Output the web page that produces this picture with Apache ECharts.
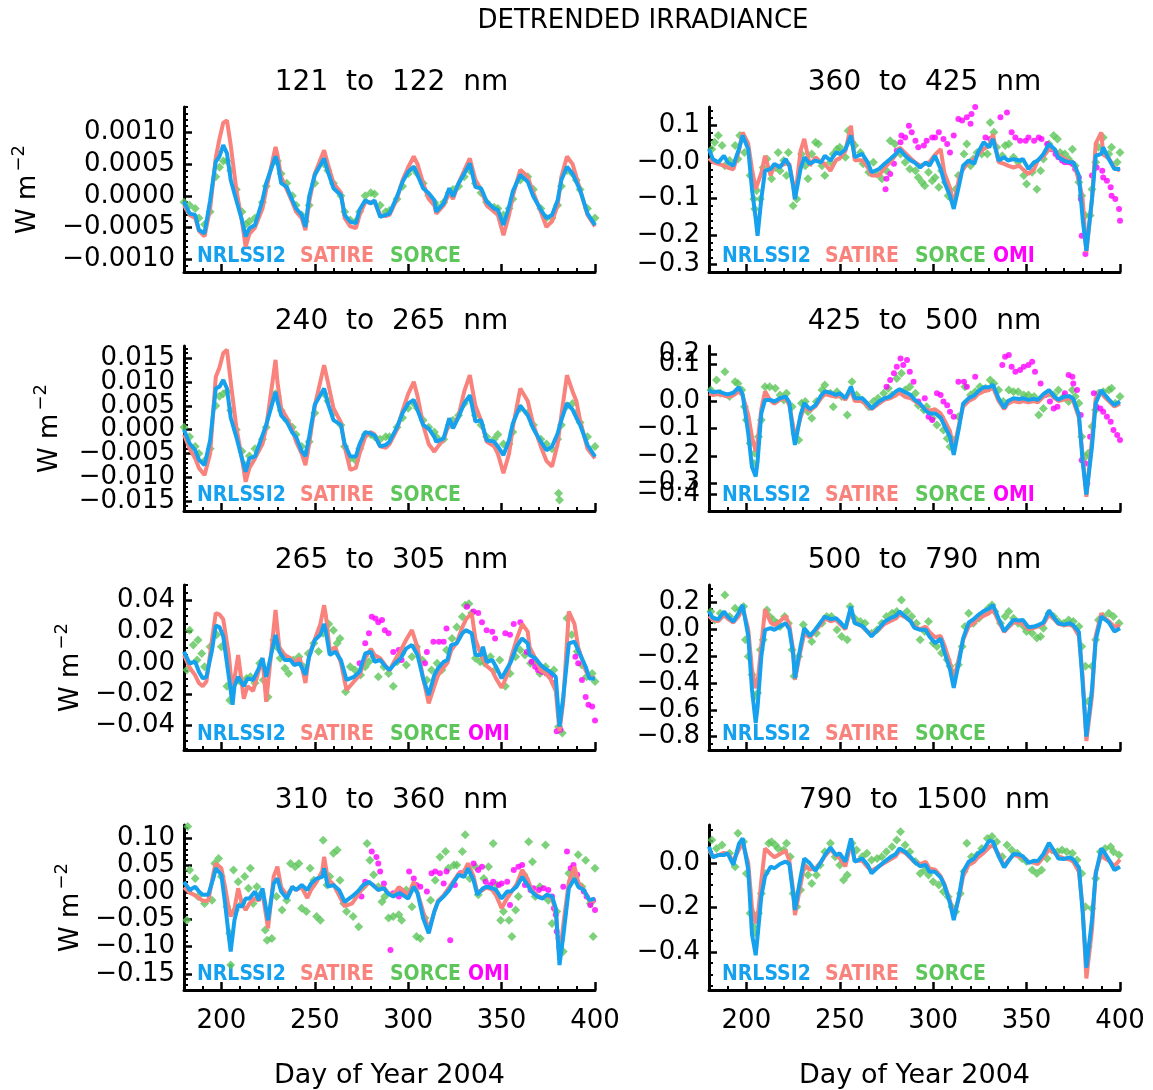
<!DOCTYPE html>
<html>
<head>
<meta charset="utf-8">
<title>Detrended irradiance</title>
<script src="https://cdn.jsdelivr.net/npm/echarts@6.0.0/dist/echarts.min.js"></script>
<style>
  html, body { margin: 0; padding: 0; background: #fff; }
  #chart { width: 1153px; height: 1090px; }
</style>
</head>
<body>
<div id="chart"></div>
<script>
// ---- day grids used by the model lines ----
const daysUV = [180,183,186,188,191,194,197,199,201,203,205,208,211,213,215,218,222,224,229,230,232,235,238,240,243,245,247,250,255,257,260,264,266,269,272,274,277,280,282,285,288,290,294,297,300,303,305,308,311,314,315,319,322,324,327,330,333,336,339,342,346,348,351,354,356,360,364,367,371,374,377,380,382,385,388,390,392,396,400];
const days265 = [180,183,186,188,190,192,195,197,199,201,204,206,207,209,212,214,217,220,222,224,229,231,234,237,239,242,245,247,250,253,255,256,258,261,264,267,271,274,277,280,282,285,288,290,293,296,299,302,305,308,311,314,316,319,321,323,326,329,331,334,336,339,340,342,345,347,350,353,355,358,361,364,365,368,371,373,376,379,381,383,386,389,391,395,397,400];
const days310 = [180,183,186,188,190,193,196,197,200,202,204,205,207,209,211,213,215,218,220,222,225,228,230,232,235,238,240,243,246,248,251,254,255,257,260,263,266,270,273,276,279,281,284,287,289,292,295,297,300,303,305,308,311,314,316,319,322,324,327,330,332,335,337,340,342,345,347,350,353,355,358,361,364,366,369,372,374,377,379,381,383,386,389,391,394,397,400];
const daysVis = [180,182,185,188,190,193,196,198,201,203,205,206,208,210,213,215,218,221,223,225,226,229,231,234,237,240,242,245,248,250,253,256,258,262,265,267,271,274,277,280,282,285,288,290,293,296,298,301,304,306,309,311,314,316,319,322,324,327,330,332,335,338,340,343,346,348,351,354,356,359,362,365,367,370,373,375,378,380,382,385,387,390,391,394,397,400];

// ---- 121-122 nm (units 1e-4 W m-2) ----
const nrl121 = [-0.9,-2.8,-3.0,-5.4,-5.9,-0.7,5.4,6.2,8.0,6.7,2.5,-0.7,-3.8,-6.4,-5.1,-4.6,-0.7,2.0,6.2,5.4,2.0,1.4,-0.7,-2.0,-3.0,-4.9,-0.1,3.3,5.9,3.8,1.2,0.1,-3.0,-4.1,-4.3,-2.2,-0.7,-1.2,-0.7,-3.3,-3.0,-2.8,-0.1,2.2,3.8,4.6,3.3,1.2,0.4,-0.7,-2.5,-1.2,1.2,-0.1,2.0,3.5,5.1,1.4,1.2,-0.9,-2.0,-2.2,-4.6,-1.7,0.7,3.3,2.2,-0.1,-2.2,-3.5,-3.0,-0.7,2.5,4.6,3.5,2.2,0.9,-2.8,-4.6];
const sat121 = [-1.5,-3.0,-3.5,-5.5,-6.4,-2.0,6.0,9.0,11.5,11.9,8.0,1.0,-4.0,-8.0,-6.0,-5.0,-2.0,1.0,7.7,6.5,3.0,1.0,-1.0,-2.5,-3.5,-5.4,-1.0,3.5,7.2,5.0,2.0,0.5,-3.5,-4.8,-5.1,-3.0,-1.0,-1.0,-1.0,-3.0,-3.2,-3.0,-0.5,2.5,4.5,6.2,5.0,2.0,-0.5,-1.5,-2.8,-1.5,0.5,-0.5,2.0,4.0,5.9,2.5,1.0,-1.5,-2.5,-3.0,-6.2,-3.0,0.0,4.1,3.0,0.5,-2.5,-4.9,-4.0,-1.5,3.0,6.2,5.0,3.0,1.0,-3.0,-4.8];
const sorce121 = [-1.0,-1.5,-2.0,-3.5,-4.5,-2.5,3.0,4.5,5.5,5.5,4.0,1.0,-2.5,-4.5,-4.0,-3.5,-1.0,1.5,5.5,5.5,3.5,2.0,0.0,-1.5,-3.0,-4.0,-1.5,2.0,5.0,4.0,2.0,0.0,-2.5,-3.8,-4.0,-2.5,0.0,0.5,0.3,-1.5,-2.5,-2.3,-0.5,1.5,3.5,4.2,3.5,2.0,0.0,-1.0,-1.5,-1.0,0.5,1.0,1.5,3.0,4.0,2.0,0.5,-1.0,-1.8,-2.0,-3.0,-2.0,-0.5,2.5,3.0,1.0,-2.0,-3.5,-3.5,-1.5,1.5,4.0,3.5,2.5,1.0,-2.0,-3.5];

// ---- 240-265 nm (units 1e-3) ----
const nrl240 = [0,-2.9,-4.3,-6.3,-7.4,-2.2,8.6,9.0,10.4,8.6,2.5,-1.5,-6.0,-8.8,-6.0,-5.6,-1.2,1.0,7.9,6.0,3.0,1.7,-0.6,-1.5,-4.5,-5.5,-1.5,5.2,8.6,5.5,2.0,1.0,-3.0,-5.6,-5.6,-3.0,-0.5,-0.8,-1.2,-3.5,-3.2,-2.5,0.5,3.5,5.5,6.2,4.1,1.0,0.2,-1.5,-2.5,-1.8,2.4,0.3,2.7,5.5,7.2,1.7,2.0,-2.2,-2.5,-3.5,-5.3,-2.2,1.3,5.0,3.0,0.2,-2.5,-4.3,-3.5,-0.8,2.0,5.5,4.2,2.5,1.0,-3.2,-5.6];
const sat240 = [-1.0,-4.0,-6.0,-8.0,-9.5,-5.0,11.0,13.0,16.0,16.7,10.0,0.5,-6.0,-10.9,-8.0,-6.0,-3.0,0.5,14.6,10.0,4.5,2.5,0.0,-2.5,-5.0,-7.4,-3.0,5.0,13.5,10.0,4.5,1.5,-3.5,-8.4,-8.0,-5.0,-1.5,-0.5,-1.0,-3.5,-3.8,-3.0,0.0,4.0,7.5,10.0,7.0,1.0,-3.0,-4.6,-4.0,-2.0,1.5,0.5,3.0,8.0,11.4,5.0,2.0,-2.5,-3.5,-5.0,-9.1,-5.0,0.5,8.6,6.0,1.0,-3.5,-6.5,-7.7,-3.0,3.0,11.4,8.0,6.0,2.0,-4.0,-6.0];
const sorce240 = [0.5,-1.5,-3.5,-5.0,-6.5,-4.0,5.0,7.0,7.5,8.0,4.0,0.0,-4.5,-7.5,-5.5,-4.0,-2.0,0.5,7.5,7.0,4.0,2.0,0.5,-1.0,-3.5,-5.0,-2.5,3.5,7.5,6.0,3.5,1.0,-3.5,-6.0,-6.5,-4.0,-1.0,-1.0,-1.5,-2.0,-1.5,-1.5,0.5,2.5,4.5,5.5,4.5,2.0,0.5,-0.5,-1.5,-2.0,1.0,2.0,3.0,5.5,6.5,3.0,1.0,-1.5,-2.0,-1.0,-3.0,-3.0,-0.5,4.5,3.5,1.0,-2.0,-3.0,-4.0,-2.0,1.0,5.0,5.5,3.5,1.5,-1.5,-3.5];
const sorce240Out = [[380.5,-13.3],[381,-14.7]];

// ---- 265-305 nm (units 1e-2) ----
const nrl265 = [0.72,-0.03,0.07,-0.57,-1.0,-0.9,0.82,2.4,2.3,1.7,-0.9,-2.7,-1.5,-0.9,-1.5,-1.0,-1.1,-0.35,0.3,-0.9,1.8,0.72,0.18,0.18,-0.14,-0.03,-0.78,0.39,1.46,1.8,2.5,2.0,0.5,0.72,0.18,-1.1,-0.9,-0.57,0.6,0.72,0.07,0.18,-0.25,-0.46,-0.03,0.3,0.93,1.14,0.5,-1.0,-2.07,-0.78,-0.35,0.07,0.18,1.14,1.25,1.9,2.1,1.9,0.5,0.5,1.04,0.07,0.18,-0.25,-1.0,-0.35,0.07,1.04,1.57,1.25,0.5,0.3,-0.14,-0.35,-0.57,-0.9,-4.1,-2.2,1.25,1.36,0.82,-0.25,-1.0,-1.0];
const sat265 = [0.5,-0.3,-0.8,-1.3,-1.5,-1.2,1.5,3.2,3.1,2.8,0.5,-2.0,-1.0,0.5,-2.3,-1.5,-1.8,-0.5,0.3,-2.5,3.4,1.0,0.5,0.3,0.0,0.3,-1.3,0.5,1.5,2.5,3.7,3.0,0.8,1.0,0.0,-1.75,-1.2,-0.8,0.3,0.9,0.5,0.3,-0.2,-0.5,0.2,0.8,1.5,2.1,1.0,-1.0,-2.6,-1.5,-0.8,-0.3,0.0,0.8,1.3,2.3,2.8,3.2,1.5,0.5,0.5,-0.2,-0.5,-1.0,-1.6,-0.8,0.3,1.5,2.5,2.0,1.0,0.3,-0.5,-0.6,-1.0,-1.8,-4.4,-2.5,3.3,2.5,1.0,-0.5,-0.9,-1.0];
const sorce265 = [[181.5,-0.46],[183,2.1],[185,1.14],[187,0.18],[187.5,1.46],[189.5,0.6],[191,-0.25],[194,1.04],[197.5,1.8],[200,1.04],[203,-1.5],[204.5,-2.4],[206.5,-1.1],[209,-1.1],[211,-1.3],[213.5,-1.0],[215.5,-0.9],[218,-1.3],[220.5,-0.03],[222.5,-1.1],[225,-2.2],[228,1.46],[229.5,1.04],[231.5,0.3],[234,-0.35],[236,-0.68],[238.5,0.18],[241.5,0.39],[244,-0.25],[246.5,0.6],[249.5,1.25],[252,0.72],[254.5,1.9],[257.5,2.5],[260,2.1],[262,1.25],[263.5,1.57],[266.5,-1.85],[269,-0.25],[271.5,-0.46],[274.5,-0.78],[277,-0.25],[279,0.07],[281.5,0.39],[284,-0.9],[287,-0.25],[289.5,-0.68],[292,-1.5],[294,0.07],[296.5,0.6],[299,-0.14],[302,0.39],[304.5,1.04],[307.5,0.18],[310,-1.1],[312.5,-0.46],[315.5,-0.03],[318,-0.46],[320.5,0.82],[323.5,1.57],[326,2.3],[329,2.96],[330.5,3.7],[332.5,3.8],[334,3.2],[336,0.3],[338.5,0.07],[341,-0.03],[344,0.39],[346.5,-0.46],[349,0.18],[352,-1.5],[354.5,-0.68],[357.5,0.39],[360,0.82],[362.5,0.5],[365.5,-0.03],[368,0.18],[370.5,-0.68],[373.5,-0.25],[375,-0.68],[378,-0.46],[380.5,-4.1],[382.5,-4.5],[385,2.86],[387.5,1.8],[390.5,0.72],[393,-0.14],[395.5,-0.9],[398.5,-0.68],[400,-1.2]];
const omi265 = [[274,-0.03],[277,1.25],[279,1.9],[280.5,2.96],[282.5,2.85],[284,2.6],[286,2.75],[287.5,2.1],[289.5,1.9],[292,0.7],[295,0.82],[296.5,0.18],[309,-0.03],[310,0.7],[313.5,1.36],[316.5,1.36],[319,1.36],[320.5,2.2],[331.5,3.6],[335,3.3],[337.5,3.2],[339.5,2.6],[342,2.1],[345,2.0],[346.5,1.57],[352,1.9],[354.5,1.8],[356.5,2.5],[360,2.6],[363.5,0.7],[366,0.07],[368,-0.25],[369.5,-0.46],[371.5,-0.57],[374,-0.68],[376,-0.9],[378,-1.3],[379.5,-4.4],[381.5,-4.3],[389.5,0.39],[391,-0.03],[393,-1.1],[395,-2.2],[396.5,-2.7],[398.5,-2.8],[400,-3.7]];

// ---- 310-360 nm (units 1e-2) ----
const nrl310 = [2.0,0.5,1.1,0.2,-0.4,-0.4,3.0,4.5,3.3,-2.0,-8.1,-10.9,-5.1,-2.3,-2.6,-1.1,-1.1,0.2,-1.4,0.8,-5.1,1.7,2.6,0.2,-1.1,1.1,0.5,1.4,0.5,1.7,2.6,2.9,4.5,1.1,1.4,0.5,-1.7,-0.7,0.2,1.4,2.0,1.4,0.5,0.8,-0.1,-0.7,-0.1,-0.4,-1.1,1.1,-0.1,-4.7,-7.5,-3.5,-1.7,-0.7,0.5,1.7,3.3,2.9,4.5,2.3,-0.4,0.8,1.1,0.8,0.5,-1.1,0.2,0.2,1.1,2.9,1.4,0.2,-0.7,-1.1,-0.4,-0.7,-2.9,-13.4,-8.1,0.8,2.6,1.1,0.5,-1.4,-1.1];
const sat310 = [1.0,0.0,-0.5,-1.0,-1.5,-1.5,4.0,5.4,4.5,1.0,-3.0,-4.4,-3.0,0.8,-2.0,-3.2,-2.0,-1.0,-1.5,0.0,-6.6,3.0,4.8,1.0,-0.5,1.0,0.5,1.0,-1.0,0.5,2.0,4.0,6.6,2.5,1.5,-0.5,-2.5,-2.0,-0.5,1.0,1.8,1.5,0.5,1.0,0.0,-0.5,1.0,0.5,-0.5,2.0,0.0,-3.5,-6.9,-3.5,-1.5,-0.5,1.0,2.0,3.5,4.0,5.4,3.0,0.0,0.5,1.0,0.5,-0.5,-2.9,-1.0,0.0,1.5,4.2,2.5,0.5,-0.5,-1.0,-0.5,-1.0,-3.5,-12.4,-6.0,2.0,4.8,2.0,0.5,-1.5,-1.5];
const sorce310 = [[182,12.2],[183,4.2],[181.5,-5.1],[186,2.6],[187.5,-0.7],[191,-2.0],[195,-1.4],[196.5,5.4],[198.5,6.3],[200,3.0],[203,-2.6],[204.5,-7.5],[205,-13.4],[206.5,4.2],[207.5,-3.2],[209,2.0],[211,-2.0],[212.5,3.0],[214.5,0.8],[215.5,4.5],[217,-2.0],[219,1.1],[221.5,-0.1],[223.5,-6.9],[224.5,-8.8],[227,-8.5],[229.5,-0.7],[232.5,-3.2],[235,-1.4],[237,5.4],[239.5,4.8],[241.5,5.4],[243,-2.9],[245.5,-3.5],[247.5,4.5],[249.5,2.3],[251,-4.4],[253,-5.1],[254.5,9.7],[256.5,1.4],[258,3.0],[260,7.3],[262,7.9],[263.5,2.3],[265.5,-2.0],[267,-3.5],[270.5,-4.4],[273.5,-6.3],[276,1.1],[278,9.1],[279.5,6.0],[281.5,3.3],[284,1.1],[286,-1.7],[287.5,-0.7],[289.5,-4.7],[292,-4.4],[295,-4.1],[296.5,-5.1],[299,0.5],[302,-2.6],[304.5,-8.1],[306.5,-8.5],[309,-4.7],[312,-1.4],[314.5,2.3],[317,6.6],[320,7.6],[321.5,4.5],[324.5,5.1],[326,5.1],[329,7.6],[330.5,10.7],[333,2.6],[336,4.8],[337.5,-0.4],[340.5,2.6],[343,4.8],[345.5,9.1],[347.5,1.4],[349.5,-5.1],[351,-3.5],[354,-5.1],[355.5,-8.1],[357.5,-3.2],[359,-0.7],[362,3.3],[364.5,9.4],[366.5,5.7],[368,-0.7],[370.5,1.1],[373.5,8.8],[375,-1.4],[377,-5.7],[379.5,-3.5],[381.5,-8.8],[383,-10.9],[386,3.6],[388.5,3.0],[391,7.0],[393,1.1],[395,6.0],[397.5,-2.0],[399,-8.1],[400,4.5]];
const omi310 = [[275,-0.7],[277,2.0],[280.5,7.6],[283,6.6],[284,5.4],[285,3.9],[287,1.7],[290.5,-10.6],[292,-0.1],[295,-0.7],[296.5,0.2],[300.5,3.9],[303,2.6],[304.5,1.4],[306.5,1.1],[310,0.2],[312.5,3.6],[314.5,3.9],[317,3.6],[319,1.7],[320.5,3.9],[322.5,-8.8],[325,1.4],[328,3.6],[331.5,4.2],[335,5.4],[337.5,4.2],[339.5,4.8],[341.5,2.0],[344,1.4],[345.5,2.0],[348.5,1.4],[350,1.7],[353,2.0],[354.5,-2.3],[356.5,4.2],[359,4.8],[361,5.1],[362.5,1.4],[365.5,0.5],[367,0.8],[370,0.5],[372.5,0.8],[375,0.5],[377,-0.7],[378,-2.9],[379,-4.1],[379.5,-7.2],[380.5,-8.5],[380.8,-10.0],[383,1.1],[385,7.6],[387,4.5],[388.5,5.1],[390.5,3.3],[392,1.1],[394,0.2],[395.5,-0.7],[397.5,-2.3],[399,-1.4],[400,-3.2]];

// ---- 360-425 nm (units 1e-2) ----
const nrl360 = [3.5,0.8,-0.1,1.7,-0.1,-1.0,3.5,7.2,3.5,-7.4,-15.5,-20.1,-10.1,-2.4,-1.9,-0.5,-1.5,0.8,-1.0,-6.5,-10.1,-1.9,1.3,-0.5,0.4,-0.1,1.7,0.4,2.6,2.2,3.5,7.2,1.3,2.2,-0.1,-2.8,-1.9,-0.5,0.8,2.2,3.5,1.7,0.4,-0.1,-1.5,-0.1,-1.0,1.7,-1.9,-5.5,-9.2,-12.8,-6.0,-1.0,0.4,-0.5,2.6,5.4,4.0,6.3,0.4,1.3,0.4,0.8,0.4,0.8,-1.9,-0.1,0.4,2.2,4.9,3.5,1.3,0.4,-0.1,-0.1,-3.7,-15.5,-24.2,-10.1,1.7,2.2,4.0,0.8,-1.9,-1.9];
const sat360 = [1.0,0.0,-0.5,-1.0,-1.5,-2.0,3.0,8.1,5.0,-2.0,-7.4,-7.5,-3.0,1.7,-3.7,-1.0,-1.0,-0.5,-0.5,-6.0,-10.1,3.0,6.3,-1.0,1.3,0.0,-0.5,-2.4,0.5,1.0,3.0,9.9,0.5,0.5,-1.5,-3.7,-3.7,-1.5,0.0,2.0,4.0,2.5,1.0,0.0,-1.0,-0.5,0.0,2.0,3.5,-3.0,-7.0,-11.9,-4.0,-2.0,0.0,0.8,2.0,3.5,4.5,7.6,0.0,-0.5,-1.0,-1.5,-1.0,-2.0,-3.3,-2.0,0.5,1.5,3.5,3.5,2.0,1.0,0.0,0.0,-5.0,-10.1,-24.6,-10.1,5.0,8.1,2.0,1.0,-1.5,-2.4];
const sorce360 = [[181.5,3.5],[183,5.4],[185,7.2],[187,4.5],[188.5,-1.0],[191,0.4],[194,4.5],[195.5,0.8],[196.5,7.2],[199,2.6],[202,-3.7],[204,-10.1],[204.5,-12.8],[205.5,-7.8],[207.5,-10.1],[209,-1.5],[211,0.8],[213.5,-4.6],[215.5,-1.5],[217,2.6],[218,-2.4],[220,0.4],[221.5,-3.7],[222.5,2.6],[225,-11.9],[227,-10.1],[229.5,2.2],[231.5,-1.0],[233,-4.6],[235,2.2],[237,5.4],[238.5,4.9],[240.5,-1.0],[242,-3.7],[245,-0.1],[246.5,2.2],[248.5,3.5],[250,4.0],[253,1.3],[254.5,8.5],[256.5,5.4],[258,4.5],[261,2.6],[262.5,-0.5],[265.5,-2.8],[268,-0.1],[270,-3.3],[272.5,-4.6],[275,-2.4],[277,5.8],[279.5,4.9],[282.5,2.2],[285,-0.1],[287.5,-1.9],[290.5,-2.4],[292,-4.2],[294,-5.5],[295.5,-6.5],[297.5,-2.8],[299.5,-5.1],[301,-4.2],[303,-6.9],[304.5,-2.4],[306.5,-5.5],[308,-9.2],[310,-10.1],[312,-7.4],[313.5,-3.7],[316.5,2.2],[318,4.9],[320,-1.0],[321.5,0.8],[323.5,2.6],[326,2.2],[329,2.2],[330.5,10.8],[332.5,8.1],[334,4.0],[337,1.7],[338.5,4.5],[340.5,4.9],[343,1.3],[345.5,-0.1],[348.5,-3.7],[350,-6.0],[353,-2.8],[355.5,-7.4],[357.5,-2.4],[359,0.8],[362,4.9],[364.5,7.2],[366.5,6.3],[368,2.6],[370.5,2.2],[372.5,0.8],[374.5,3.5],[376,-1.0],[378,-5.5],[379.5,-9.2],[381.5,-14.6],[384,-14.6],[385,-7.4],[387,-0.1],[388.5,4.0],[391,6.7],[394,2.2],[395.5,4.0],[398.5,-0.1],[400,2.6]];
const omi360 = [[274.5,-7.4],[275,-4.6],[277,-3.3],[279,-0.5],[280.5,3.1],[282.5,5.4],[283,7.2],[285,6.7],[287,9.9],[288.5,8.1],[290.5,5.8],[292,4.0],[295,4.5],[296.5,5.8],[299.5,6.7],[301,6.7],[303,8.1],[305.5,6.3],[307.5,4.9],[309,2.6],[311,7.2],[313.5,11.7],[315.5,11.3],[318,12.2],[320,10.4],[320.5,13.1],[322.5,15.0],[328,6.7],[330.5,6.3],[336,12.2],[339.5,13.5],[342,8.1],[344,6.7],[346.5,5.8],[349.5,5.8],[351,6.7],[354,5.8],[356.5,6.7],[358,6.3],[361,4.9],[363.5,3.5],[365.5,2.2],[367,1.3],[369,0.4],[370.5,-0.1],[372.5,-0.1],[374.5,-0.5],[376,-1.9],[378,-4.2],[379,-10.1],[379.5,-20.1],[381.5,-25.1],[385,-3.7],[387.5,-1.5],[390.5,-2.4],[391,-4.2],[393,-5.1],[395,-6.9],[395.5,-9.2],[397.5,-10.1],[399.5,-12.8],[400,-16.0]];

// ---- 425-500 nm (units 1e-2) ----
const nrl425 = [4.0,3.2,3.5,2.8,2.4,3.0,5.0,2.5,-11.8,-24.0,-27.5,-22.0,-4.5,0.4,0.4,-0.2,1.0,1.6,-0.5,-11.8,-16.0,-5.0,-0.8,-3.0,-1.5,2.0,3.5,3.0,2.2,2.8,1.0,5.2,1.0,1.0,-1.0,-2.7,-0.2,1.0,1.6,3.5,4.3,3.2,2.2,0.5,-1.0,-3.5,-4.5,-4.5,-6.0,-9.0,-13.0,-19.6,-9.0,-1.0,1.0,2.0,3.5,5.0,5.0,6.0,1.0,-2.5,0.0,1.0,0.7,1.0,0.4,0.8,0.4,2.5,4.0,1.5,0.5,1.5,1.8,0.8,-5.0,-22.0,-34.0,-16.6,-0.8,4.0,3.0,0.6,-1.5,-0.2];
const sat425 = [2.8,2.2,2.5,2.0,1.6,2.0,3.5,2.0,-5.0,-13.0,-18.4,-15.0,-3.0,3.5,0.0,-1.0,0.5,1.0,-1.5,-9.0,-14.2,-6.0,-2.0,-3.5,-2.0,1.0,2.5,2.0,1.5,2.0,0.5,4.0,0.0,0.0,-2.0,-3.0,-1.0,0.5,1.0,2.0,3.0,1.5,1.0,0.0,-1.5,-3.0,-3.5,-3.0,-4.5,-7.0,-11.0,-17.8,-8.0,-2.0,0.0,1.0,2.5,3.5,4.0,5.0,0.0,-3.0,-1.0,0.0,-0.5,0.0,-0.5,0.0,-0.5,1.5,3.0,1.0,0.0,0.5,1.0,0.0,-6.0,-20.0,-34.8,-14.0,1.0,3.0,2.0,0.0,-2.0,-1.0];
const sorce425 = [[181,4.0],[184,7.6],[188.5,10.6],[186,2.8],[191,1.6],[194,7.0],[195.5,6.4],[197.5,4.0],[199,-2.1],[200,-6.9],[202,-15.4],[204,-22.7],[204.5,-19.0],[206.5,-13.0],[208,-6.9],[210,5.2],[212.5,5.2],[215.5,4.6],[218,2.2],[220,0.4],[221.5,2.8],[224.5,-2.1],[226,-11.8],[228,-14.2],[229.5,-0.8],[231.5,-0.2],[233,-3.9],[235,-6.3],[237.5,-0.2],[240.5,4.0],[242,5.8],[245,2.8],[246.5,-2.1],[248.5,3.4],[251,1.6],[254,-5.1],[256.5,7.0],[259,2.2],[262,0.4],[265.5,-2.1],[268,-0.2],[270.5,1.0],[273.5,2.8],[276,4.6],[278,2.2],[280.5,8.2],[283,10.1],[285,4.0],[287.5,5.2],[290.5,2.8],[292,-1.5],[295,-3.3],[296.5,-2.1],[299.5,-6.3],[302,-8.7],[304,-5.7],[305.5,-10.5],[307.5,-13.6],[309,-16.6],[311,-14.2],[313.5,-5.7],[317,5.2],[320,2.2],[322.5,3.4],[325,5.2],[328,4.6],[330.5,7.6],[332.5,6.4],[335,4.0],[337.5,-0.2],[340.5,4.0],[343,3.4],[345.5,3.4],[348.5,2.2],[351,2.2],[354,1.6],[356.5,-5.1],[359,-2.7],[362,2.8],[364.5,2.2],[367,4.0],[370,1.6],[372.5,-0.2],[374.5,4.0],[376,1.6],[378,-0.8],[379.5,-13.0],[381.5,-20.3],[383,-19.0],[385,-9.3],[387,-3.3],[388.5,2.8],[391,3.4],[394,4.0],[395.5,4.6],[397.5,-0.8],[400,1.6]];
const omi425 = [[275,5.2],[277,7.6],[279,10.1],[280.5,12.5],[282.5,15.5],[284,13.1],[286,14.9],[287.5,10.6],[289.5,7.0],[292,-0.2],[295.5,1.0],[297.5,-5.7],[299.5,-6.9],[302,2.8],[304,2.2],[305.5,-0.2],[307.5,-1.5],[309,-3.9],[311,-5.7],[313.5,7.0],[316.5,7.0],[318,5.2],[320,1.0],[322.5,8.8],[337,13.1],[338.5,16.1],[340.5,16.7],[342,12.5],[344,10.6],[346.5,11.3],[348.5,12.5],[351,13.1],[353,14.3],[354.5,10.6],[357.5,6.4],[360,2.2],[362.5,-0.2],[364.5,-2.7],[366.5,-2.1],[370.5,2.8],[372.5,9.5],[374.5,8.8],[375,6.4],[377,4.0],[379,-5.1],[379.5,-21.5],[381.5,-22.7],[382.5,-29.9],[384,-13.0],[386,2.8],[387.5,-2.1],[389.5,-2.7],[391,-3.9],[393,-5.7],[395,-7.5],[396.5,-10.5],[398.5,-12.4],[400,-14.2]];

// ---- 500-790 nm (units 1e-2) ----
const nrl500 = [13.2,8.5,7.5,13.2,9.5,5.7,12.5,18.1,-5.0,-45.0,-69.8,-58.0,-20.3,-0.4,0.8,-0.4,2.0,4.5,0.0,-18.0,-36.4,-12.8,0.8,-5.0,0.0,5.7,9.5,7.5,8.2,5.7,0.8,16.9,4.5,2.5,-2.0,-5.4,0.8,5.7,8.2,10.0,13.2,9.5,5.7,1.0,-0.4,-0.4,-5.4,-10.3,-7.0,-17.0,-30.0,-43.7,-23.0,-7.0,5.0,8.0,10.5,13.5,15.5,18.1,8.0,-1.5,2.0,7.0,6.5,7.0,1.5,2.0,3.0,5.0,14.0,8.0,4.5,3.5,4.5,3.0,-2.0,-40.0,-80.0,-45.0,-8.0,9.5,10.7,5.0,-1.7,0.8];
const sat500 = [10.0,7.0,6.0,10.5,8.0,5.0,10.0,16.0,0.0,-30.0,-43.8,-40.0,-12.0,15.0,5.0,3.0,6.0,10.0,3.0,-15.0,-37.6,-16.0,-3.0,-6.0,-1.0,4.0,8.0,6.0,7.0,4.0,0.0,15.0,5.0,2.0,-2.0,-4.0,0.0,4.0,6.0,8.0,11.0,9.0,6.0,2.0,0.0,2.0,-2.0,-6.0,-5.0,-12.0,-25.0,-38.9,-20.0,-8.0,2.0,5.0,8.0,10.0,12.0,15.0,6.0,-2.0,1.0,5.0,5.0,4.0,0.0,1.0,2.0,4.0,11.0,7.0,4.0,3.0,3.5,2.0,-5.0,-35.0,-83.3,-50.0,-5.0,12.0,9.0,6.0,2.0,3.0];
const sorce500 = [[181,13.2],[183,7.0],[186,11.9],[188.5,25.5],[191,9.5],[194,15.6],[196.5,14.4],[198.5,16.9],[199.5,-7.9],[201,-20.3],[203,-33.9],[204.5,-50.0],[206,-47.6],[207.5,-15.3],[209,-7.9],[211,14.4],[212.5,9.5],[214.5,7.0],[216.5,4.5],[218,2.0],[220.5,9.5],[222.5,4.5],[224.5,-15.3],[225.5,-35.0],[228,-20.3],[230.5,3.3],[232.5,-2.9],[235,-9.1],[237.5,-2.9],[240.5,4.5],[243,9.5],[245.5,9.5],[248.5,-0.4],[251,-5.4],[254,-7.9],[255.5,16.9],[258,8.2],[261,5.7],[263.5,4.5],[267,-2.9],[270,-0.4],[272.5,4.5],[275,9.5],[278,11.9],[280.5,13.2],[283,21.8],[286,13.2],[288.5,9.5],[291,4.5],[293,-7.9],[295.5,-1.7],[297.5,5.7],[300,-10.3],[302,-12.8],[304.5,-17.7],[307.5,-22.7],[309,-27.6],[311,-32.6],[313.5,-26.4],[315.5,-12.8],[317,2.0],[319,11.9],[321.5,4.5],[324.5,8.2],[327,11.9],[329.5,15.6],[331.5,18.1],[333,13.2],[336,4.5],[338.5,9.5],[340.5,13.2],[343,8.2],[345.5,4.5],[348.5,2.0],[350,-1.7],[353,-2.9],[355.5,-6.6],[357.5,-5.4],[359,0.8],[362,11.9],[364.5,9.5],[367,5.7],[370,4.5],[372.5,7.0],[375,5.7],[378,2.0],[379.5,-12.8],[381.5,-27.6],[383,-53.6],[385,-27.6],[387,-7.9],[388.5,7.0],[391,9.5],[394,11.9],[396.5,9.5],[399.5,4.5]];

// ---- 790-1500 nm (units 1e-2) ----
const nrl790 = [7.3,2.5,3.5,3.5,4.3,-0.9,8.5,11.0,-3.0,-32.0,-41.4,-33.0,-15.0,-6.0,-1.7,-2.4,-0.5,0.6,-0.5,-13.7,-21.1,-6.5,2.0,-0.2,-3.5,0.5,3.5,7.0,3.5,4.3,0.6,11.0,0.6,2.0,-1.0,-4.7,-1.5,0.6,2.5,4.0,6.5,5.0,2.5,0.5,-1.5,-0.9,-4.0,-4.0,-6.5,-10.0,-18.0,-25.6,-14.0,-4.0,0.5,2.0,4.3,6.0,10.0,9.5,3.0,-2.0,0.5,4.0,3.8,3.0,0.0,1.0,0.8,4.0,9.0,5.0,2.0,1.8,2.5,1.5,-2.0,-22.0,-47.0,-25.6,-5.0,6.5,5.5,1.5,-3.2,-1.7];
const sat790 = [5.5,3.0,3.5,4.5,4.0,1.0,6.0,9.0,0.0,-20.0,-27.1,-25.0,-8.0,6.5,4.0,2.5,4.0,5.5,1.0,-12.0,-23.4,-10.0,-1.0,-3.0,-2.5,0.5,3.0,6.0,3.5,2.0,-1.5,9.0,1.0,1.0,-2.0,-3.5,-1.5,0.0,1.5,3.0,5.5,4.5,2.0,0.5,-0.5,0.5,-2.5,-3.0,-6.0,-9.5,-17.0,-24.1,-15.0,-6.0,-1.0,0.5,2.5,4.5,7.0,8.0,4.0,-1.5,1.0,3.5,3.0,2.5,0.5,0.0,-0.5,2.5,6.0,4.5,3.0,2.0,1.5,0.5,-4.0,-20.0,-51.8,-30.0,-4.0,4.0,2.5,1.0,-1.5,1.5];
const sorce790 = [[181.5,10.3],[184,6.5],[187,8.0],[191,4.3],[194,-1.7],[195.5,13.3],[198.5,9.5],[200,-4.7],[202,-22.6],[204,-28.6],[205,-31.6],[206.5,-22.6],[208,-13.7],[210,-4.7],[212,8.8],[213.5,9.5],[215.5,8.0],[217,6.5],[220,5.8],[221.5,8.8],[223.5,2.8],[225,-13.7],[227,-19.7],[229,-12.2],[231.5,-1.7],[233,-5.4],[235,-9.2],[237.5,-5.4],[239.5,-0.9],[242,5.0],[245,8.8],[247.5,2.8],[250,-0.9],[252,-7.7],[254,-5.4],[256.5,8.8],[259,5.8],[262,2.8],[264.5,4.3],[267,1.3],[270,2.0],[272.5,2.8],[275,5.0],[278,7.3],[280.5,10.3],[282.5,14.0],[285,8.0],[287.5,5.0],[290.5,0.6],[293,-4.7],[295.5,-3.2],[297.5,-5.4],[300,-8.4],[303,-9.9],[305.5,-12.9],[308,-15.2],[310,-19.7],[312,-21.9],[314.5,-13.7],[316.5,-3.9],[318,8.8],[320.5,2.8],[323.5,3.5],[326,6.5],[329,11.0],[331.5,11.8],[334,9.5],[337,2.8],[339.5,8.0],[342,5.8],[345,4.3],[347.5,2.0],[350,0.6],[353,-3.2],[355.5,-4.7],[358,-3.2],[361,2.0],[363.5,5.8],[366.5,5.0],[369,5.8],[371.5,5.0],[374.5,4.3],[377,1.3],[379.5,-4.7],[381.5,-19.7],[383,-37.6],[385,-20.4],[387,-7.0],[389.5,5.0],[392,6.5],[395,7.3],[396.5,5.0],[399.5,3.5]];

// ---- tick labels ----
const xTicks = [200, 250, 300, 350, 400];
const xMinorTicks = [190, 210, 220, 230, 240, 260, 270, 280, 290, 310, 320, 330, 340, 360, 370, 380, 390];
const legendNames = ['NRLSSI2', 'SATIRE', 'SORCE', 'OMI'];

const FONT = '"DejaVu Sans", Verdana, sans-serif';
const LEGEND_FONT = '"Liberation Sans Narrow", "DejaVu Sans Condensed", "Liberation Sans", sans-serif';
const COLORS = { nrl: '#16a1ee', sat: '#f9827c', sorce: '#5cc65a', omi: '#ff00ff' };
const GRID_LEFT = [184, 709];
const GRID_TOP = [107, 346, 585, 825];
const GRID_W = 411, GRID_H = 165;

const panels = [
  { title: '121  to  122  nm', col: 0, row: 0, unit: 1e-4, min: -0.0012, max: 0.0014, minor: 0.0001,
    ticks: [-0.001, -0.0005, 0, 0.0005, 0.001], labels: ['−0.0010', '−0.0005', '0.0000', '0.0005', '0.0010'],
    days: daysUV, nrl: nrl121, sat: sat121, sorce: daysUV.map((d, i) => [d, sorce121[i]]), omi: null, nameX: 28 },
  { title: '240  to  265  nm', col: 0, row: 1, unit: 1e-3, min: -0.017, max: 0.0175, minor: 0.001,
    ticks: [-0.015, -0.01, -0.005, 0, 0.005, 0.01, 0.015], labels: ['−0.015', '−0.010', '−0.005', '0.000', '0.005', '0.010', '0.015'],
    days: daysUV, nrl: nrl240, sat: sat240, sorce: daysUV.map((d, i) => [d, sorce240[i]]).concat(sorce240Out), omi: null, nameX: 50 },
  { title: '265  to  305  nm', col: 0, row: 2, unit: 1e-2, min: -0.056, max: 0.05, minor: 0.005,
    ticks: [-0.04, -0.02, 0, 0.02, 0.04], labels: ['−0.04', '−0.02', '0.00', '0.02', '0.04'],
    days: days265, nrl: nrl265, sat: sat265, sorce: sorce265, omi: omi265, nameX: 71 },
  { title: '310  to  360  nm', col: 0, row: 3, unit: 1e-2, min: -0.18, max: 0.125, minor: 0.01,
    ticks: [-0.15, -0.1, -0.05, 0, 0.05, 0.1], labels: ['−0.15', '−0.10', '−0.05', '0.00', '0.05', '0.10'],
    days: days310, nrl: nrl310, sat: sat310, sorce: sorce310, omi: omi310, nameX: 71 },
  { title: '360  to  425  nm', col: 1, row: 0, unit: 1e-2, min: -0.3, max: 0.15, minor: 0.02,
    ticks: [-0.28, -0.2, -0.1, 0, 0.1], labels: ['−0.3', '−0.2', '−0.1', '−0.0', '0.1'],
    days: daysVis, nrl: nrl360, sat: sat360, sorce: sorce360, omi: omi360 },
  { title: '425  to  500  nm', col: 1, row: 1, unit: 1e-2, min: -0.4, max: 0.2, minor: 0,
    ticks: [-0.34, -0.3, -0.2, -0.1, 0, 0.135, 0.17], labels: ['−0.4', '−0.3', '−0.2', '−0.1', '0.0', '0.1', '0.2'],
    days: daysVis, nrl: nrl425, sat: sat425, sorce: sorce425, omi: omi425 },
  { title: '500  to  790  nm', col: 1, row: 2, unit: 1e-2, min: -0.9, max: 0.33, minor: 0.05,
    ticks: [-0.8, -0.6, -0.4, -0.2, 0, 0.2], labels: ['−0.8', '−0.6', '−0.4', '−0.2', '0.0', '0.2'],
    days: daysVis, nrl: nrl500, sat: sat500, sorce: sorce500, omi: null },
  { title: '790  to  1500  nm', col: 1, row: 3, unit: 1e-2, min: -0.57, max: 0.17, minor: 0.05,
    ticks: [-0.4, -0.2, 0], labels: ['−0.4', '−0.2', '0.0'],
    days: daysVis, nrl: nrl790, sat: sat790, sorce: sorce790, omi: null }
];

function minorTicks(p) {
  const out = [];
  if (!p.minor) return out;
  const k0 = Math.ceil(p.min / p.minor - 1e-6), k1 = Math.floor(p.max / p.minor + 1e-6);
  for (let k = k0; k <= k1; k++) {
    const v = +(k * p.minor).toFixed(8);
    if (!p.ticks.some(t => Math.abs(t - v) < p.minor * 0.3)) out.push(v);
  }
  return out;
}

function labelFor(p, v) {
  let best = 0;
  p.ticks.forEach((t, i) => { if (Math.abs(t - v) < Math.abs(p.ticks[best] - v)) best = i; });
  return p.labels[best];
}

const grids = [], xAxes = [], yAxes = [], series = [], graphic = [];
const axisLine = { show: true, onZero: false, lineStyle: { color: '#000', width: 3 } };

panels.forEach((p, i) => {
  const left = GRID_LEFT[p.col], top = GRID_TOP[p.row];
  const bottomRow = p.row === 3;
  grids.push({ left: left, top: top, width: GRID_W, height: GRID_H });

  xAxes.push({
    type: 'value', gridIndex: i, position: 'bottom', min: 180, max: 400,
    axisLine: axisLine, splitLine: { show: false },
    axisTick: { show: true, inside: true, length: 8, customValues: xTicks, lineStyle: { color: '#000', width: 2.5 } },
    axisLabel: { show: bottomRow, customValues: xTicks, margin: 18, color: '#000', fontSize: 26, fontFamily: FONT,
      hideOverlap: false, showMinLabel: true, showMaxLabel: true },
    name: bottomRow ? 'Day of Year 2004' : '', nameLocation: 'middle', nameGap: 72,
    nameTextStyle: { color: '#000', fontSize: 27, fontFamily: FONT }
  });
  xAxes.push({
    type: 'value', gridIndex: i, position: 'bottom', min: 180, max: 400,
    axisLine: { show: false, onZero: false }, splitLine: { show: false }, axisLabel: { show: false },
    axisTick: { show: true, inside: true, length: 4, customValues: xMinorTicks, lineStyle: { color: '#000', width: 2 } }
  });

  // labels are split over two stacked axes (even / odd ticks) so that tightly packed labels all stay visible
  const evenTicks = p.ticks.filter((t, k) => k % 2 === 0);
  const oddTicks = p.ticks.filter((t, k) => k % 2 === 1);
  const yLabel = vals => ({ customValues: vals, margin: 9, color: '#000', fontSize: 26, fontFamily: FONT,
    hideOverlap: false, showMinLabel: true, showMaxLabel: true, formatter: v => labelFor(p, v) });
  yAxes.push({
    type: 'value', gridIndex: i, position: 'left', min: p.min, max: p.max,
    axisLine: axisLine, splitLine: { show: false },
    axisTick: { show: true, inside: true, length: 8, customValues: p.ticks, lineStyle: { color: '#000', width: 2.5 } },
    axisLabel: yLabel(evenTicks)
  });
  yAxes.push({
    type: 'value', gridIndex: i, position: 'left', min: p.min, max: p.max,
    axisLine: { show: false, onZero: false }, splitLine: { show: false },
    axisLabel: Object.assign(yLabel(oddTicks), { show: oddTicks.length > 0 }),
    axisTick: { show: true, inside: true, length: 4, customValues: minorTicks(p), lineStyle: { color: '#000', width: 2 } }
  });

  const xi = 2 * i, yi = 2 * i;
  const u = p.unit;
  series.push({
    name: 'SATIRE', type: 'line', xAxisIndex: xi, yAxisIndex: yi, showSymbol: false, silent: true,
    lineStyle: { color: COLORS.sat, width: 4 }, data: p.days.map((d, k) => [d, p.sat[k] * u])
  });
  series.push({
    name: 'SORCE', type: 'scatter', xAxisIndex: xi, yAxisIndex: yi, symbol: 'diamond', symbolSize: 9, silent: true,
    itemStyle: { color: COLORS.sorce }, data: p.sorce.map(q => [q[0], q[1] * u])
  });
  if (p.omi) {
    series.push({
      name: 'OMI', type: 'scatter', xAxisIndex: xi, yAxisIndex: yi, symbol: 'circle', symbolSize: 6, silent: true,
      itemStyle: { color: COLORS.omi }, data: p.omi.map(q => [q[0], q[1] * u])
    });
  }
  series.push({
    name: 'NRLSSI2', type: 'line', xAxisIndex: xi, yAxisIndex: yi, showSymbol: false, silent: true,
    lineStyle: { color: COLORS.nrl, width: 4 }, data: p.days.map((d, k) => [d, p.nrl[k] * u])
  });

  // panel title
  graphic.push({ type: 'text', x: left + GRID_W / 2 + (p.col ? 10 : 2), y: top - 24,
    style: { text: p.title, fontSize: 28, fontFamily: FONT, fill: '#000', align: 'center', verticalAlign: 'middle' } });

  // in-plot legend
  const offs = [13, 116, 206, 284];
  const cols = [COLORS.nrl, COLORS.sat, COLORS.sorce, COLORS.omi];
  const n = p.omi ? 4 : 3;
  for (let k = 0; k < n; k++) {
    graphic.push({ type: 'text', x: left + offs[k], y: top + GRID_H - 15,
      style: { text: legendNames[k], fontSize: 21, fontWeight: 'bold', fontFamily: LEGEND_FONT, fill: cols[k],
        align: 'left', verticalAlign: 'middle' } });
  }

  // y axis name (left column only)
  if (p.col === 0) {
    graphic.push({ type: 'text', x: p.nameX, y: top + GRID_H / 2, rotation: Math.PI / 2,
      style: { text: '{a|W m}{b|−2}', align: 'center', verticalAlign: 'middle',
        rich: {
          a: { fontSize: 26, fontFamily: FONT, fill: '#000', lineHeight: 36 },
          b: { fontSize: 18, fontFamily: FONT, fill: '#000', verticalAlign: 'top', padding: [0, 0, 0, 3] }
        } } });
  }
});

graphic.push({ type: 'text', x: 643, y: 21,
  style: { text: 'DETRENDED IRRADIANCE', fontSize: 26, fontFamily: FONT, fill: '#000', align: 'center', verticalAlign: 'middle' } });

const chart = echarts.init(document.getElementById('chart'));
chart.setOption({
  animation: false,
  backgroundColor: '#fff',
  grid: grids,
  xAxis: xAxes,
  yAxis: yAxes,
  series: series,
  graphic: graphic
});
</script>
</body>
</html>
